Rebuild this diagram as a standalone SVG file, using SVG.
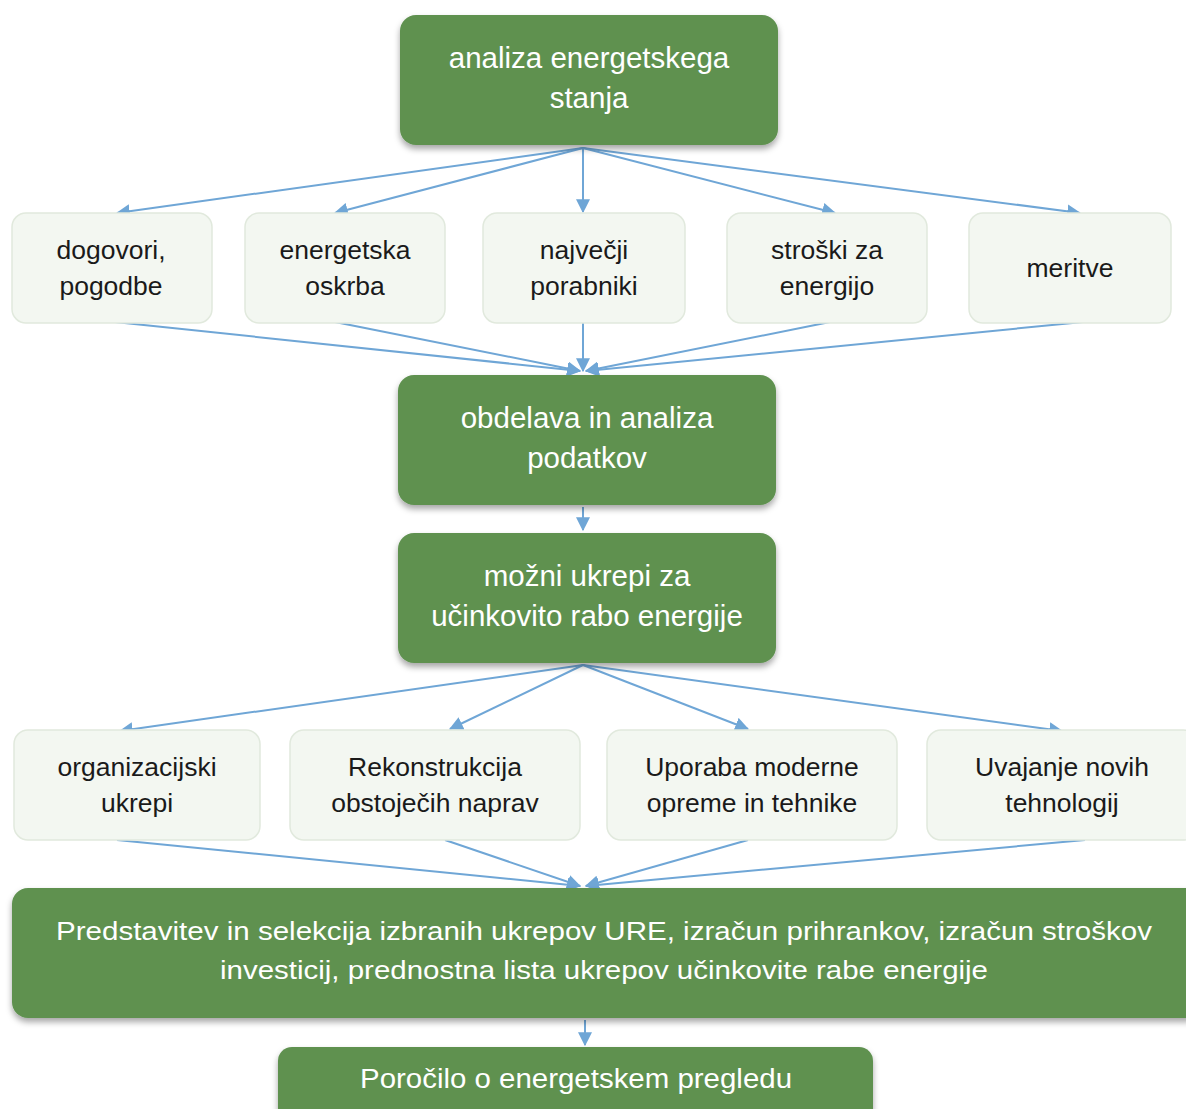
<svg xmlns="http://www.w3.org/2000/svg" width="1186" height="1109" viewBox="0 0 1186 1109">
<style>
.g{fill:#5f9150;filter:url(#sh)}
.l{fill:#f3f7f1;stroke:#e1e9dd;stroke-width:1.5}
.tw{font-family:"Liberation Sans",Arial,sans-serif;fill:#ffffff;text-anchor:middle}
.tb{font-family:"Liberation Sans",Arial,sans-serif;fill:#1a1a1a;text-anchor:middle;font-size:26.5px}
.ca{stroke:#6fa6d6;stroke-width:2;fill:none;marker-end:url(#ah)}
</style>
<defs>
<filter id="sh" x="-10%" y="-20%" width="120%" height="150%">
<feDropShadow dx="0" dy="4" stdDeviation="3" flood-color="#000" flood-opacity="0.35"/>
</filter>
<marker id="ah" viewBox="0 0 12 12" refX="11" refY="6" markerWidth="14" markerHeight="14" markerUnits="userSpaceOnUse" orient="auto">
<path d="M0,0 L12,6 L0,12 z" fill="#6fa6d6"/>
</marker>
</defs>
<rect width="1186" height="1109" fill="#ffffff"/>
<g id="connectors">
<line class="ca" x1="583" y1="148" x2="117" y2="213"/>
<line class="ca" x1="583" y1="148" x2="335" y2="213"/>
<line class="ca" x1="583" y1="148" x2="583" y2="212"/>
<line class="ca" x1="583" y1="148" x2="835" y2="213"/>
<line class="ca" x1="583" y1="148" x2="1080" y2="213"/>
<line class="ca" x1="115" y1="322" x2="580" y2="371"/>
<line class="ca" x1="335" y1="322" x2="580" y2="371"/>
<line class="ca" x1="583" y1="322" x2="583" y2="371"/>
<line class="ca" x1="830" y1="322" x2="586" y2="371"/>
<line class="ca" x1="1083" y1="322" x2="586" y2="371"/>
<line class="ca" x1="583" y1="507" x2="583" y2="530"/>
<line class="ca" x1="583" y1="665" x2="120" y2="731"/>
<line class="ca" x1="583" y1="665" x2="450" y2="729"/>
<line class="ca" x1="583" y1="665" x2="748" y2="729"/>
<line class="ca" x1="583" y1="665" x2="1062" y2="731"/>
<line class="ca" x1="117" y1="840" x2="580" y2="886"/>
<line class="ca" x1="445" y1="840" x2="580" y2="886"/>
<line class="ca" x1="748" y1="840" x2="586" y2="886"/>
<line class="ca" x1="1085" y1="840" x2="586" y2="886"/>
<line class="ca" x1="585" y1="1020" x2="585" y2="1045"/>
</g>
<g id="n1"><rect class="g" x="400" y="15" width="378" height="130" rx="16"/>
<text class="tw" font-size="29.5"><tspan x="589" y="68">analiza energetskega</tspan><tspan x="589" y="108">stanja</tspan></text></g>
<g id="n2"><rect class="l" x="12" y="213" width="200" height="110" rx="14"/>
<text class="tb"><tspan x="111" y="259">dogovori,</tspan><tspan x="111" y="295">pogodbe</tspan></text></g>
<g id="n3"><rect class="l" x="245" y="213" width="200" height="110" rx="14"/>
<text class="tb"><tspan x="345" y="259">energetska</tspan><tspan x="345" y="295">oskrba</tspan></text></g>
<g id="n4"><rect class="l" x="483" y="213" width="202" height="110" rx="14"/>
<text class="tb"><tspan x="584" y="259">največji</tspan><tspan x="584" y="295">porabniki</tspan></text></g>
<g id="n5"><rect class="l" x="727" y="213" width="200" height="110" rx="14"/>
<text class="tb"><tspan x="827" y="259">stroški za</tspan><tspan x="827" y="295">energijo</tspan></text></g>
<g id="n6"><rect class="l" x="969" y="213" width="202" height="110" rx="14"/>
<text class="tb"><tspan x="1070" y="277">meritve</tspan></text></g>
<g id="n7"><rect class="g" x="398" y="375" width="378" height="130" rx="16"/>
<text class="tw" font-size="29.5"><tspan x="587" y="428">obdelava in analiza</tspan><tspan x="587" y="468">podatkov</tspan></text></g>
<g id="n8"><rect class="g" x="398" y="533" width="378" height="130" rx="16"/>
<text class="tw" font-size="29.5"><tspan x="587" y="586">možni ukrepi za</tspan><tspan x="587" y="626">učinkovito rabo energije</tspan></text></g>
<g id="n9"><rect class="l" x="14" y="730" width="246" height="110" rx="14"/>
<text class="tb"><tspan x="137" y="776">organizacijski</tspan><tspan x="137" y="812">ukrepi</tspan></text></g>
<g id="n10"><rect class="l" x="290" y="730" width="290" height="110" rx="14"/>
<text class="tb"><tspan x="435" y="776">Rekonstrukcija</tspan><tspan x="435" y="812">obstoječih naprav</tspan></text></g>
<g id="n11"><rect class="l" x="607" y="730" width="290" height="110" rx="14"/>
<text class="tb"><tspan x="752" y="776">Uporaba moderne</tspan><tspan x="752" y="812">opreme in tehnike</tspan></text></g>
<g id="n12"><rect class="l" x="927" y="730" width="270" height="110" rx="14"/>
<text class="tb"><tspan x="1062" y="776">Uvajanje novih</tspan><tspan x="1062" y="812">tehnologij</tspan></text></g>
<g id="n13"><rect class="g" x="12" y="888" width="1190" height="130" rx="16"/>
<text class="tw" font-size="26"><tspan x="604" y="940" textLength="1096" lengthAdjust="spacingAndGlyphs">Predstavitev in selekcija izbranih ukrepov URE, izračun prihrankov, izračun stroškov</tspan><tspan x="604" y="979" textLength="768" lengthAdjust="spacingAndGlyphs">investicij, prednostna lista ukrepov učinkovite rabe energije</tspan></text></g>
<g id="n14"><rect class="g" x="278" y="1047" width="595" height="80" rx="14"/>
<text class="tw" font-size="27"><tspan x="576" y="1088" textLength="432" lengthAdjust="spacingAndGlyphs">Poročilo o energetskem pregledu</tspan></text></g>
</svg>
